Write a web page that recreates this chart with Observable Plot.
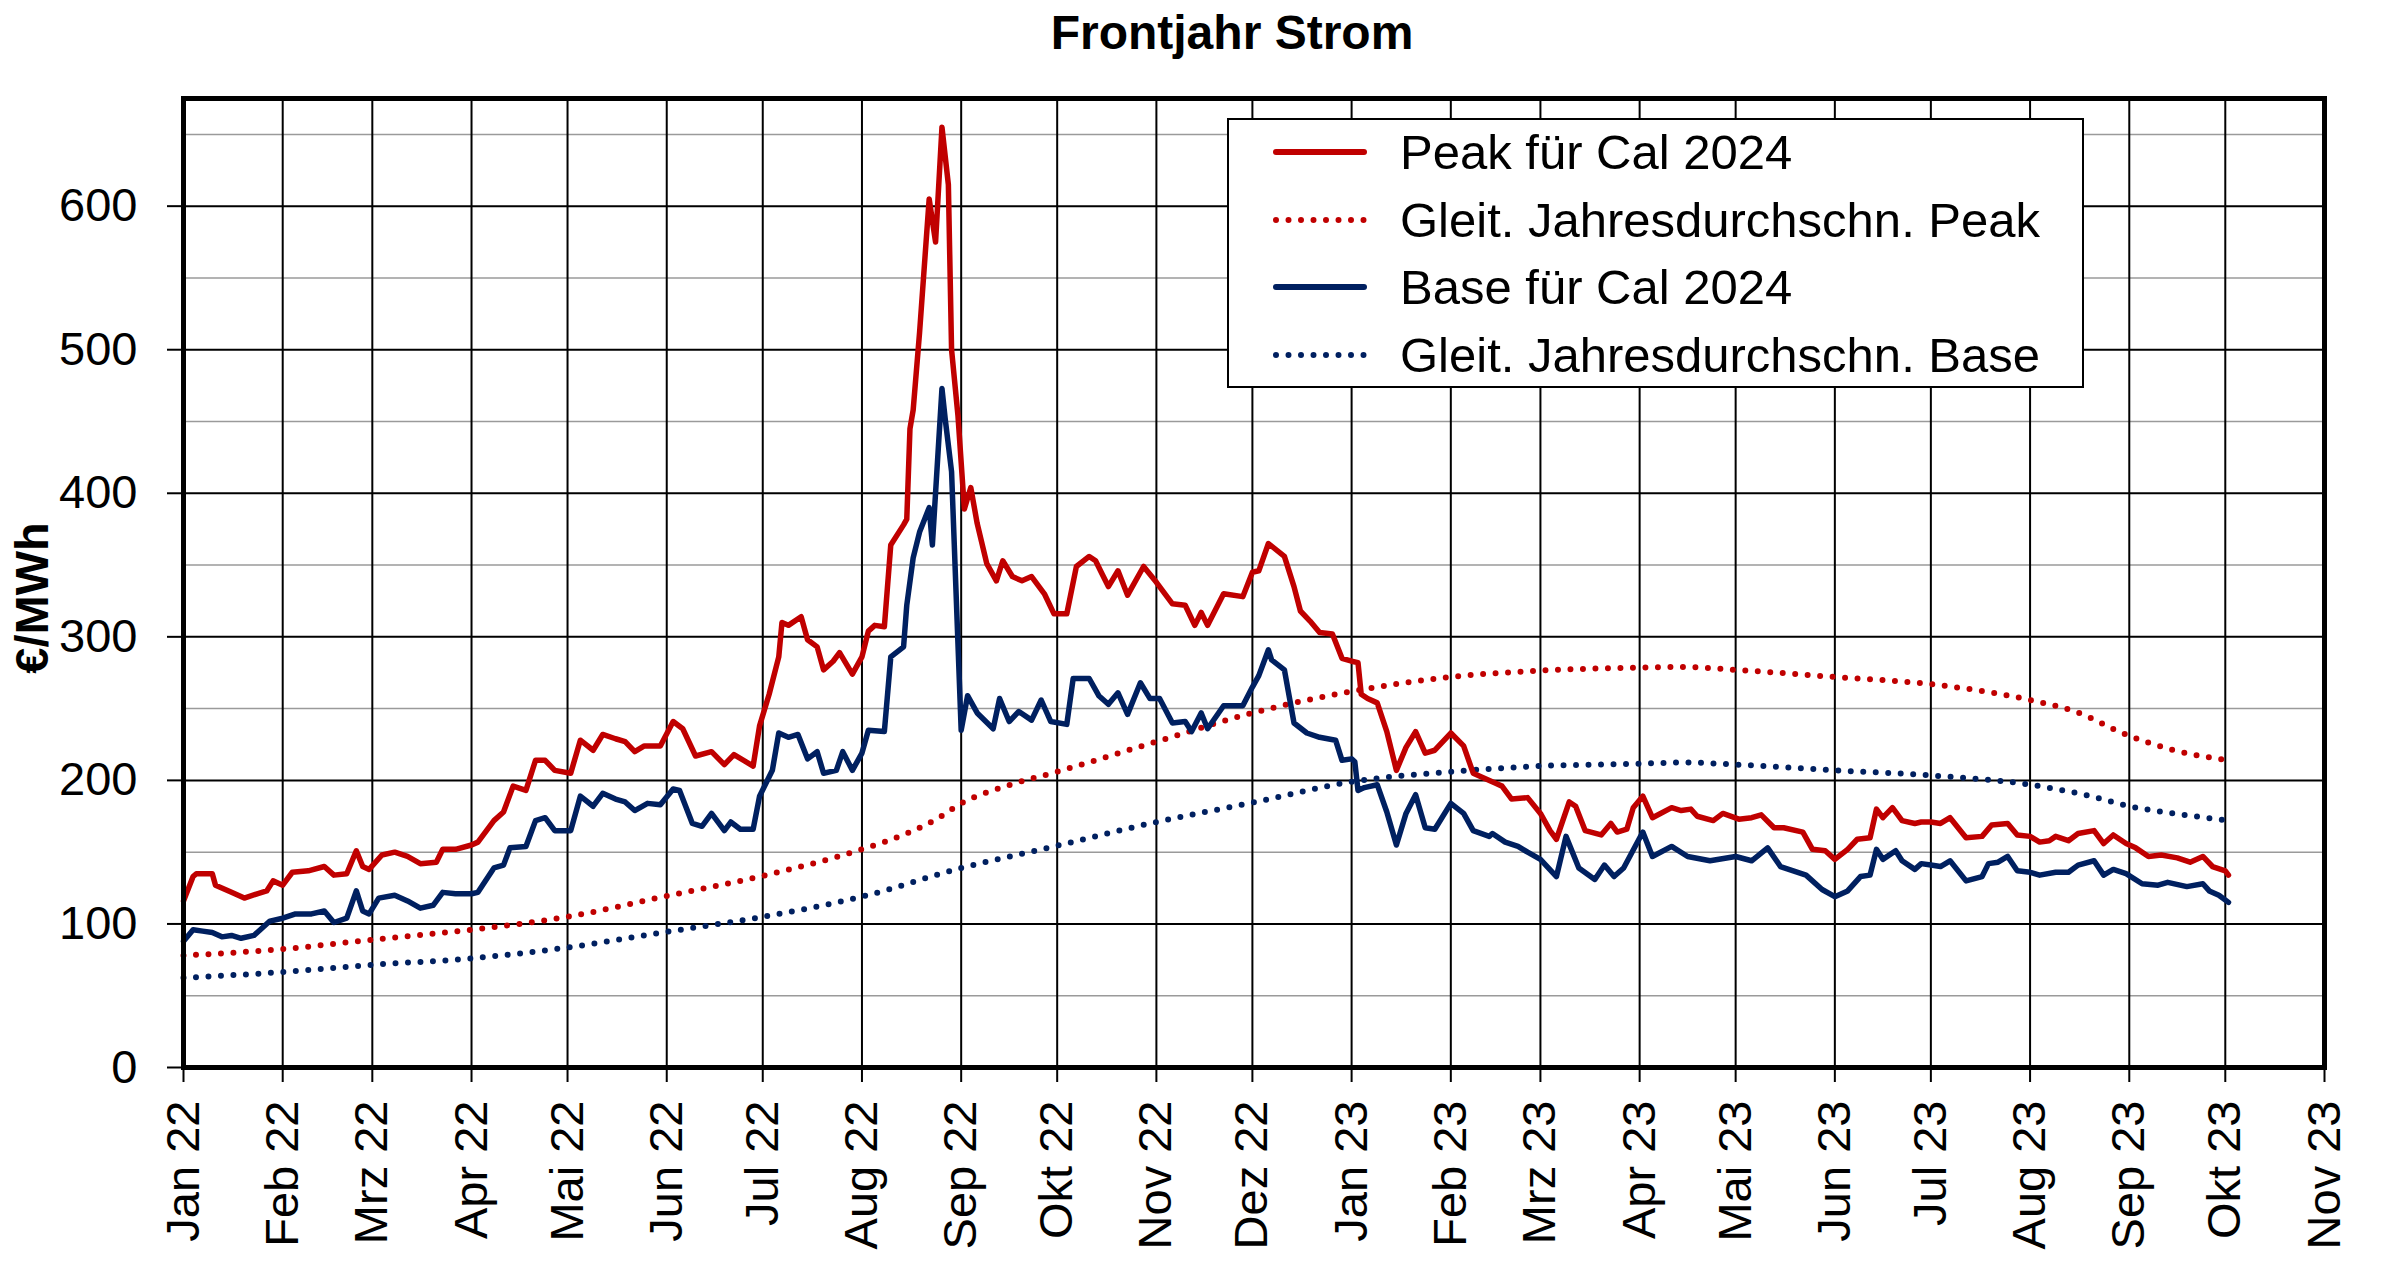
<!DOCTYPE html>
<html>
<head>
<meta charset="utf-8">
<script src="https://cdn.jsdelivr.net/npm/d3@7"></script>
<script src="https://cdn.jsdelivr.net/npm/@observablehq/plot@0.6"></script>
<style>
  html, body { margin: 0; padding: 0; background: #fff; }
  body { width: 2400px; height: 1273px; position: relative; overflow: hidden;
         font-family: "Liberation Sans", Arial, sans-serif; color: #000; }
  #title { height: 70px; box-sizing: border-box; padding-top: 9px; padding-left: 64px;
           text-align: center; font-size: 48px; line-height: 48px; font-weight: bold; }
  #legend { position: absolute; left: 1227px; top: 118px; width: 857px; height: 270px;
            box-sizing: border-box; border: 2px solid #000; background: #fff; }
  .row { position: absolute; left: 0; height: 68px; display: flex; align-items: center; }
  .row svg { margin-left: 43px; }
  .row span { position: absolute; left: 171px; font-size: 49px; white-space: nowrap; top: 50%; transform: translateY(-50%); }
</style>
</head>
<body>
<div id="title">Frontjahr Strom</div>
<div id="chart"></div>
<div id="legend"></div>
<script>
// ---------- data ----------
const monthLabels = ["Jan","Feb","Mrz","Apr","Mai","Jun","Jul","Aug","Sep","Okt","Nov","Dez"];
const yTicks = [0, 100, 200, 300, 400, 500, 600];
const yMinor = [50, 150, 250, 350, 450, 550, 650];
const seriesNames = ["Peak für Cal 2024", "Gleit. Jahresdurchschn. Peak", "Base für Cal 2024", "Gleit. Jahresdurchschn. Base"];

const peak = [
["2022-01-01",116],["2022-01-04",133],["2022-01-05",135],["2022-01-10",135],["2022-01-11",127],["2022-01-16",122],["2022-01-20",118],["2022-01-24",121],["2022-01-27",123],["2022-01-29",130],
["2022-02-01",127],["2022-02-04",136],["2022-02-09",137],["2022-02-14",140],["2022-02-17",134],["2022-02-21",135],["2022-02-24",151],["2022-02-26",140],["2022-02-28",138],
["2022-03-04",148],["2022-03-08",150],["2022-03-12",147],["2022-03-16",142],["2022-03-21",143],["2022-03-23",152],["2022-03-27",152],
["2022-04-01",155],["2022-04-03",157],["2022-04-08",172],["2022-04-11",178],["2022-04-14",196],["2022-04-18",193],["2022-04-21",214],["2022-04-24",214],["2022-04-27",207],
["2022-05-02",205],["2022-05-05",228],["2022-05-09",221],["2022-05-12",232],["2022-05-16",229],["2022-05-19",227],["2022-05-22",220],["2022-05-25",224],["2022-05-30",224],
["2022-06-03",241],["2022-06-06",236],["2022-06-10",217],["2022-06-15",220],["2022-06-19",211],["2022-06-22",218],["2022-06-28",210],["2022-06-30",238],
["2022-07-03",260],["2022-07-06",286],["2022-07-07",310],["2022-07-09",308],["2022-07-13",314],["2022-07-15",298],["2022-07-18",293],["2022-07-20",277],["2022-07-23",283],["2022-07-25",289],["2022-07-29",274],
["2022-08-01",286],["2022-08-03",304],["2022-08-05",308],["2022-08-08",307],["2022-08-10",364],["2022-08-14",378],["2022-08-15",382],["2022-08-16",445],["2022-08-17",458],["2022-08-19",512],["2022-08-22",605],["2022-08-24",575],["2022-08-26",655],["2022-08-28",615],["2022-08-29",500],["2022-08-31",454],
["2022-09-02",389],["2022-09-04",404],["2022-09-06",379],["2022-09-09",351],["2022-09-12",339],["2022-09-14",353],["2022-09-17",342],["2022-09-20",339],["2022-09-23",342],["2022-09-27",330],["2022-09-30",316],
["2022-10-04",316],["2022-10-07",349],["2022-10-11",356],["2022-10-13",353],["2022-10-15",344],["2022-10-17",335],["2022-10-20",346],["2022-10-23",329],["2022-10-28",349],
["2022-11-01",338],["2022-11-06",323],["2022-11-10",322],["2022-11-13",308],["2022-11-15",317],["2022-11-17",308],["2022-11-22",330],["2022-11-28",328],
["2022-12-01",345],["2022-12-03",346],["2022-12-06",365],["2022-12-11",356],["2022-12-14",335],["2022-12-16",318],["2022-12-19",311],["2022-12-22",303],["2022-12-26",302],["2022-12-29",285],
["2023-01-01",283],["2023-01-03",282],["2023-01-04",260],["2023-01-06",257],["2023-01-09",254],["2023-01-12",234],["2023-01-15",207],["2023-01-18",223],["2023-01-21",234],["2023-01-24",219],["2023-01-27",221],
["2023-02-01",233],["2023-02-05",224],["2023-02-08",205],["2023-02-12",201],["2023-02-15",198],["2023-02-17",196],["2023-02-20",187],["2023-02-25",188],
["2023-03-01",177],["2023-03-04",165],["2023-03-06",159],["2023-03-10",185],["2023-03-12",182],["2023-03-15",165],["2023-03-20",162],["2023-03-23",170],["2023-03-25",164],["2023-03-28",166],["2023-03-30",181],
["2023-04-02",189],["2023-04-05",174],["2023-04-11",181],["2023-04-14",179],["2023-04-17",180],["2023-04-19",175],["2023-04-24",172],["2023-04-27",177],
["2023-05-02",173],["2023-05-06",174],["2023-05-09",176],["2023-05-13",167],["2023-05-16",167],["2023-05-22",164],["2023-05-25",152],["2023-05-29",151],
["2023-06-01",145],["2023-06-05",152],["2023-06-08",159],["2023-06-12",160],["2023-06-14",180],["2023-06-16",174],["2023-06-19",181],["2023-06-22",172],["2023-06-26",170],["2023-06-28",171],
["2023-07-01",171],["2023-07-04",170],["2023-07-07",174],["2023-07-12",160],["2023-07-17",161],["2023-07-20",169],["2023-07-25",170],["2023-07-28",162],
["2023-08-01",161],["2023-08-04",157],["2023-08-07",158],["2023-08-09",161],["2023-08-13",158],["2023-08-16",163],["2023-08-21",165],["2023-08-24",156],["2023-08-27",162],["2023-08-31",156],
["2023-09-03",153],["2023-09-07",147],["2023-09-11",148],["2023-09-16",146],["2023-09-20",143],["2023-09-24",147],["2023-09-27",140],["2023-10-01",137],["2023-10-02",134]
];

const base = [
["2022-01-01",88],["2022-01-04",96],["2022-01-07",95],["2022-01-10",94],["2022-01-13",91],["2022-01-16",92],["2022-01-19",90],["2022-01-23",92],["2022-01-28",102],
["2022-02-01",104],["2022-02-05",107],["2022-02-10",107],["2022-02-14",109],["2022-02-17",101],["2022-02-21",104],["2022-02-24",123],["2022-02-26",109],["2022-02-28",107],
["2022-03-03",118],["2022-03-08",120],["2022-03-12",116],["2022-03-16",111],["2022-03-20",113],["2022-03-23",122],["2022-03-27",121],
["2022-04-01",121],["2022-04-03",122],["2022-04-08",139],["2022-04-11",141],["2022-04-13",153],["2022-04-18",154],["2022-04-21",172],["2022-04-24",174],["2022-04-27",165],
["2022-05-02",165],["2022-05-05",189],["2022-05-09",182],["2022-05-12",191],["2022-05-16",187],["2022-05-19",185],["2022-05-22",179],["2022-05-26",184],["2022-05-30",183],
["2022-06-03",194],["2022-06-05",193],["2022-06-09",170],["2022-06-12",168],["2022-06-15",177],["2022-06-19",165],["2022-06-21",171],["2022-06-24",166],["2022-06-28",166],["2022-06-30",189],
["2022-07-04",207],["2022-07-06",233],["2022-07-09",230],["2022-07-12",232],["2022-07-15",215],["2022-07-18",220],["2022-07-20",205],["2022-07-24",207],["2022-07-26",220],["2022-07-29",207],
["2022-08-01",219],["2022-08-03",235],["2022-08-08",234],["2022-08-10",286],["2022-08-14",293],["2022-08-15",322],["2022-08-17",355],["2022-08-19",373],["2022-08-22",390],["2022-08-23",364],["2022-08-26",473],["2022-08-27",452],["2022-08-29",415],
["2022-09-01",235],["2022-09-03",259],["2022-09-06",247],["2022-09-11",236],["2022-09-13",257],["2022-09-16",241],["2022-09-19",248],["2022-09-23",242],["2022-09-26",256],["2022-09-29",241],
["2022-10-04",239],["2022-10-06",271],["2022-10-11",271],["2022-10-14",259],["2022-10-17",253],["2022-10-20",261],["2022-10-23",246],["2022-10-27",268],["2022-10-30",257],
["2022-11-02",257],["2022-11-06",240],["2022-11-10",241],["2022-11-12",234],["2022-11-15",247],["2022-11-17",236],["2022-11-22",252],["2022-11-28",252],
["2022-12-01",265],["2022-12-03",273],["2022-12-06",291],["2022-12-07",284],["2022-12-11",277],["2022-12-14",240],["2022-12-18",233],["2022-12-22",230],["2022-12-27",228],["2022-12-29",214],
["2023-01-01",215],["2023-01-02",213],["2023-01-03",193],["2023-01-05",195],["2023-01-09",197],["2023-01-12",178],["2023-01-15",155],["2023-01-18",177],["2023-01-21",190],["2023-01-24",167],["2023-01-27",166],
["2023-02-01",184],["2023-02-05",177],["2023-02-08",165],["2023-02-13",161],["2023-02-14",163],["2023-02-18",157],["2023-02-22",154],["2023-02-25",150],
["2023-03-01",145],["2023-03-06",133],["2023-03-09",161],["2023-03-13",139],["2023-03-18",131],["2023-03-21",141],["2023-03-24",133],["2023-03-27",139],
["2023-04-02",164],["2023-04-05",147],["2023-04-11",154],["2023-04-16",147],["2023-04-23",144],
["2023-05-01",147],["2023-05-06",144],["2023-05-11",153],["2023-05-15",140],["2023-05-23",134],["2023-05-28",124],
["2023-06-01",119],["2023-06-05",123],["2023-06-09",133],["2023-06-12",134],["2023-06-14",152],["2023-06-16",145],["2023-06-20",151],["2023-06-22",144],["2023-06-26",138],["2023-06-28",142],
["2023-07-01",141],["2023-07-04",140],["2023-07-07",144],["2023-07-12",130],["2023-07-17",133],["2023-07-19",142],["2023-07-22",143],["2023-07-25",147],["2023-07-28",137],
["2023-08-01",136],["2023-08-04",134],["2023-08-09",136],["2023-08-13",136],["2023-08-16",141],["2023-08-21",144],["2023-08-24",134],["2023-08-27",138],["2023-08-31",135],
["2023-09-05",128],["2023-09-10",127],["2023-09-13",129],["2023-09-19",126],["2023-09-24",128],["2023-09-26",123],["2023-09-29",120],["2023-10-02",115]
];

const peakAvg = [
["2022-01-01",78],["2022-02-01",82.5],["2022-03-01",89],["2022-04-01",96],["2022-05-01",105],["2022-06-01",119.5],["2022-07-01",133.5],
["2022-08-01",152],["2022-08-15",163],["2022-08-25",174],["2022-09-01",184],["2022-09-15",196],["2022-10-01",206],["2022-11-01",227],["2022-12-01",247],
["2023-01-01",262],["2023-02-01",272],["2023-03-01",276.5],["2023-04-01",278.5],["2023-04-15",279],["2023-05-01",277],["2023-06-01",272],["2023-07-01",267],
["2023-08-01",256],["2023-08-15",248],["2023-09-01",231],["2023-09-15",221],["2023-10-02",214]
];

const baseAvg = [
["2022-01-01",62.5],["2022-02-01",66.5],["2022-03-01",71.5],["2022-04-01",76],["2022-05-01",83.6],["2022-06-01",94.5],["2022-07-01",105],
["2022-08-01",119],["2022-09-01",139],["2022-10-01",154.5],["2022-11-01",171],["2022-12-01",184.5],
["2023-01-01",199],["2023-02-01",206],["2023-03-01",210],["2023-04-01",211.6],["2023-04-15",212.5],["2023-05-01",211],["2023-06-01",207],["2023-07-01",203.5],
["2023-08-01",197],["2023-08-20",189],["2023-09-01",182],["2023-09-15",177],["2023-10-02",172]
];

// ---------- build ----------
const RED = "#C00000", BLUE = "#002060";
const parse = d3.utcParse("%Y-%m-%d");
const toRows = arr => arr.map(([d, v]) => ({date: parse(d), value: v}));
const xStart = parse("2022-01-01"), xEnd = parse("2023-11-01");
const monthTicks = d3.utcMonth.range(xStart, d3.utcDay.offset(xEnd, 1));
const fmtMonth = d => monthLabels[d.getUTCMonth()] + " " + String(d.getUTCFullYear()).slice(2);

const dotted = {strokeWidth: 6, strokeDasharray: "0 12.5", strokeLinecap: "round", curve: "monotone-x"};
const solid = {strokeWidth: 5.5, strokeLinejoin: "round", strokeLinecap: "round"};

const chart = Plot.plot({
  width: 2400,
  height: 1203,
  marginTop: 28,
  marginRight: 76,
  marginBottom: 206,
  marginLeft: 183,
  style: {fontFamily: "'Liberation Sans', Arial, sans-serif", fontSize: "47px", color: "#000", background: "#fff", overflow: "visible"},
  x: {type: "utc", domain: [xStart, xEnd]},
  y: {domain: [0, 675]},
  marks: [
    Plot.ruleY(yMinor, {stroke: "#9a9a9a", strokeWidth: 1.5}),
    Plot.ruleY(yTicks, {stroke: "#000", strokeWidth: 2}),
    Plot.ruleX(monthTicks, {stroke: "#000", strokeWidth: 2}),
    Plot.line(toRows(peakAvg), {x: "date", y: "value", stroke: RED, ...dotted}),
    Plot.line(toRows(baseAvg), {x: "date", y: "value", stroke: BLUE, ...dotted}),
    Plot.line(toRows(base), {x: "date", y: "value", stroke: BLUE, ...solid}),
    Plot.line(toRows(peak), {x: "date", y: "value", stroke: RED, ...solid}),
    Plot.axisY({ticks: yTicks, tickSize: 16, tickPadding: 30, tickFormat: d => String(d), label: null, strokeWidth: 2}),
    Plot.axisX({ticks: monthTicks, tickSize: 15, tickPadding: 18, tickRotate: -90, tickFormat: fmtMonth, label: null, strokeWidth: 2}),
    Plot.frame({stroke: "#000", strokeWidth: 5}),
    Plot.text(["€/MWh"], {frameAnchor: "left", textAnchor: "middle", text: d => d, rotate: -90, dx: -151, dy: 15, fontWeight: "bold", fontSize: 47})
  ]
});
document.getElementById("chart").appendChild(chart);

// ---------- legend ----------
const legendStyles = [
  {color: RED, dash: null},
  {color: RED, dash: "0 12.5"},
  {color: BLUE, dash: null},
  {color: BLUE, dash: "0 12.5"}
];
const legend = document.getElementById("legend");
seriesNames.forEach((name, i) => {
  const row = document.createElement("div");
  row.className = "row";
  row.style.top = (i * 67.5 - 2) + "px";
  const st = legendStyles[i];
  row.innerHTML = `<svg width="100" height="20"><line x1="4" y1="10" x2="${st.dash ? 95 : 92}" y2="10" stroke="${st.color}" stroke-width="6" stroke-linecap="round" ${st.dash ? `stroke-dasharray="${st.dash}"` : ""}/></svg><span>${name}</span>`;
  legend.appendChild(row);
});
</script>
</body>
</html>
